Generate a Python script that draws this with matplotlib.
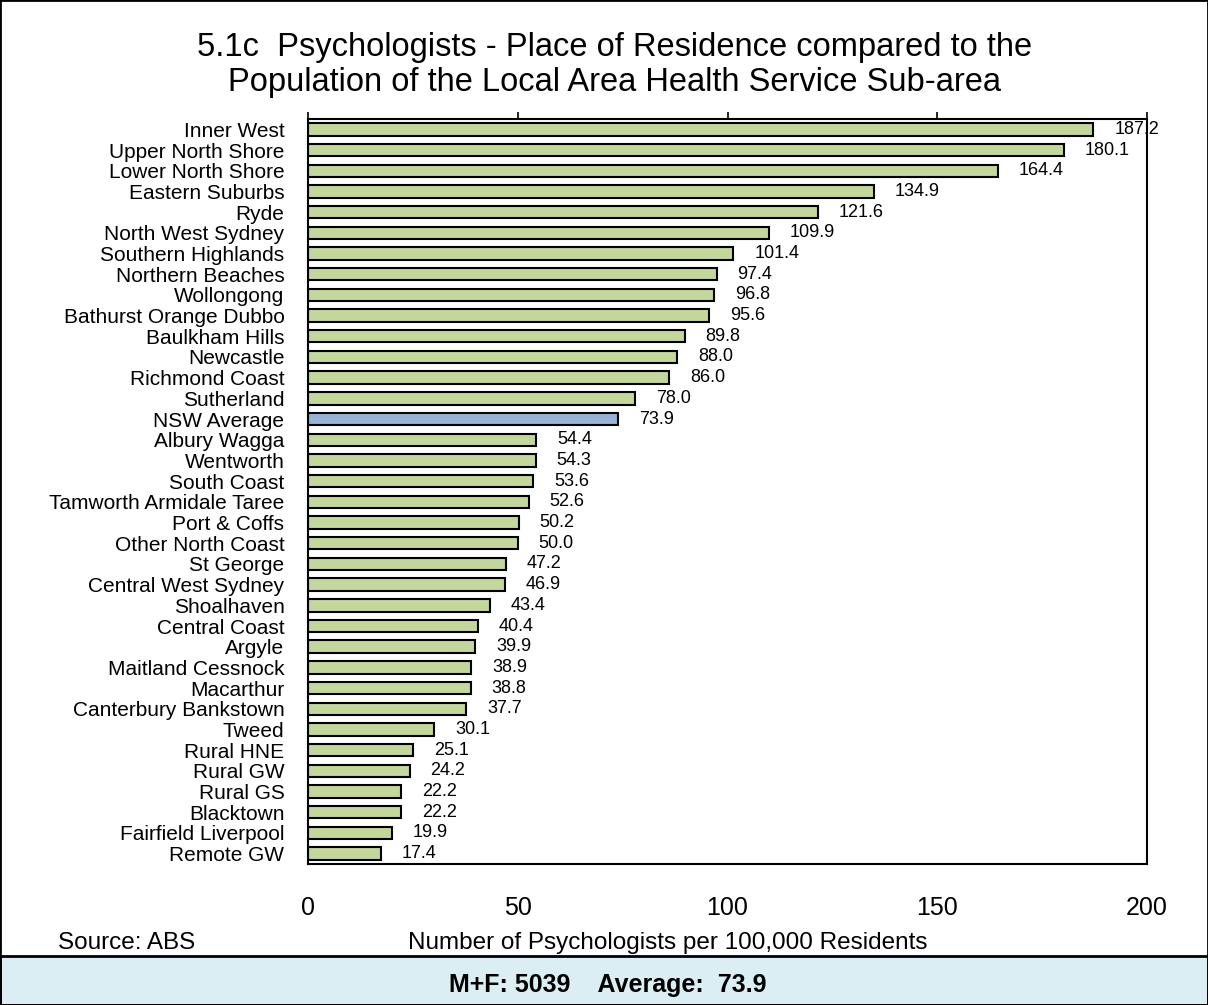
import matplotlib.pyplot as plt
from matplotlib.patches import Rectangle

plt.rcParams['font.family'] = ['Liberation Sans', 'DejaVu Sans']

areas = ["Inner West", "Upper North Shore", "Lower North Shore", "Eastern Suburbs", "Ryde",
         "North West Sydney", "Southern Highlands", "Northern Beaches", "Wollongong",
         "Bathurst Orange Dubbo", "Baulkham Hills", "Newcastle", "Richmond Coast", "Sutherland",
         "NSW Average", "Albury Wagga", "Wentworth", "South Coast", "Tamworth Armidale Taree",
         "Port & Coffs", "Other North Coast", "St George", "Central West Sydney", "Shoalhaven",
         "Central Coast", "Argyle", "Maitland Cessnock", "Macarthur", "Canterbury Bankstown",
         "Tweed", "Rural HNE", "Rural GW", "Rural GS", "Blacktown", "Fairfield Liverpool",
         "Remote GW"]
rates = [187.2, 180.1, 164.4, 134.9, 121.6, 109.9, 101.4, 97.4, 96.8, 95.6, 89.8, 88.0, 86.0,
         78.0, 73.9, 54.4, 54.3, 53.6, 52.6, 50.2, 50.0, 47.2, 46.9, 43.4, 40.4, 39.9, 38.9,
         38.8, 37.7, 30.1, 25.1, 24.2, 22.2, 22.2, 19.9, 17.4]
x_ticks = [0, 50, 100, 150, 200]

fig = plt.figure(figsize=(12.08, 10.05), dpi=100)
ax = fig.add_axes([0.255, 0.1403, 0.6945, 0.7413])

colors = ['#95b3d7' if a == "NSW Average" else '#c4d79b' for a in areas]
y = list(range(len(areas)))
ax.barh(y, rates, height=0.6, color=colors, edgecolor='black', linewidth=1.5)
for yi, v in zip(y, rates):
    ax.text(v + 5, yi, f"{v:.1f}", va='center', ha='left', fontsize=13)

ax.set_ylim(len(areas) - 0.5, -0.5)
ax.set_xlim(0, 200)
ax.set_yticks(y)
ax.set_yticklabels(areas, fontsize=15)
ax.set_xticks(x_ticks)
ax.set_xticklabels([str(t) for t in x_ticks], fontsize=18)
ax.tick_params(axis='y', length=0, pad=17)
ax.tick_params(axis='x', top=True, bottom=False, labeltop=False, labelbottom=True,
               direction='out', length=5, width=1.2, pad=18)
for s in ax.spines.values():
    s.set_linewidth(1.5)

fig.text(0.509, 0.953, "5.1c  Psychologists - Place of Residence compared to the",
         ha='center', va='center', fontsize=23.5)
fig.text(0.509, 0.918, "Population of the Local Area Health Service Sub-area",
         ha='center', va='center', fontsize=23.5)

fig.text(0.048, 0.062, "Source: ABS", ha='left', va='center', fontsize=17.5)
fig.text(0.553, 0.062, "Number of Psychologists per 100,000 Residents", ha='center',
         va='center', fontsize=17.5)

# footer box and outer border
fig.patches.append(Rectangle((0.0, 0.0), 1.0, 0.049, transform=fig.transFigure,
                             facecolor='#daeef3', edgecolor='black', linewidth=2))
fig.patches.append(Rectangle((0.0, 0.0), 1.0, 1.0, transform=fig.transFigure,
                             facecolor='none', edgecolor='black', linewidth=2))
fig.text(0.503, 0.020, "M+F: 5039    Average:  73.9", ha='center', va='center',
         fontsize=18, fontweight='bold')

fig.savefig("out.png", dpi=100)
